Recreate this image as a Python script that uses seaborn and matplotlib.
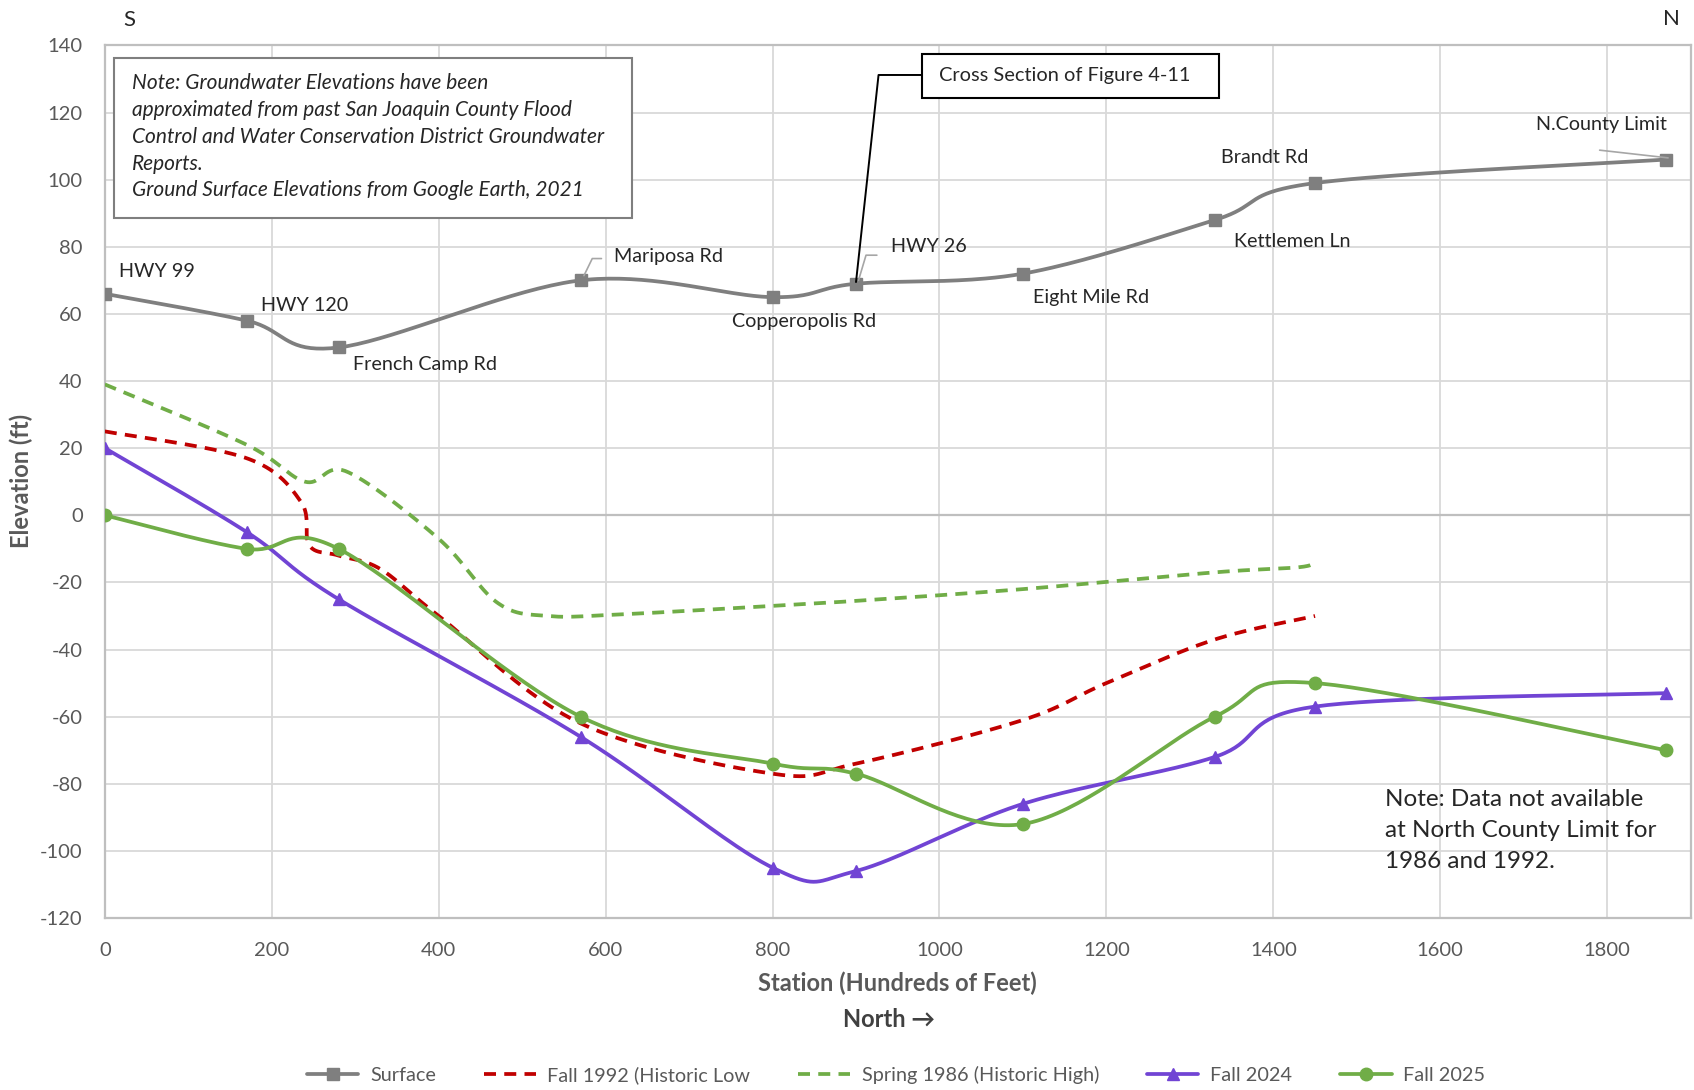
import numpy as np
import pandas as pd
import matplotlib
matplotlib.use("Agg")
import matplotlib.pyplot as plt
from matplotlib.patches import Rectangle
from matplotlib.lines import Line2D
import seaborn as sns

# --- data ---
station = [0, 170, 280, 570, 800, 900, 1100, 1330, 1450, 1870]
surface = [66, 58, 50, 70, 65, 69, 72, 88, 99, 106]
fall_2024 = [20, -5, -25, -66, -105, -106, -86, -72, -57, -53]
fall_2025 = [0, -10, -10, -60, -74, -77, -92, -60, -50, -70]

# historic lines have hidden points (no markers)
x_1992 = [0, 170, 235, 245, 280, 330, 400, 570, 800, 900, 1100, 1200, 1330, 1450]
fall_1992 = [25, 17, 4, -9, -12, -16, -30, -62, -77, -74, -61, -50, -37, -30]
x_1986 = [0, 170, 240, 290, 400, 470, 530, 620, 800, 900, 1100, 1330, 1430, 1450]
spring_1986 = [39, 21, 10, 13, -7, -26, -30, -29.5, -27, -25.5, -22, -17, -15.5, -14]

labels = ["HWY 99", "HWY 120", "French Camp Rd", "Mariposa Rd", "Copperopolis Rd",
          "HWY 26", "Eight Mile Rd", "Kettlemen Ln", "Brandt Rd", "N.County Limit"]
label_pos = [(17, 72.7), (187, 62.4), (297, 44.9), (610, 77.2), (751, 57.8),
             (942, 80.1), (1112, 64.9), (1353, 81.7), (1337, 106.5), (1715, 116.5)]

GREY = "#7f7f7f"
RED = "#c00000"
GREEN = "#70ad47"
PURPLE = "#7144d4"
TXT = "#595959"

# px per data unit, so the smoothing happens in screen-like space (like Excel)
SX, SY = 0.833, 3.35


def smooth(xs, ys, n=40):
    P = np.column_stack([np.array(xs, float) * SX, np.array(ys, float) * SY])
    out = [P[0]]
    t = np.linspace(0, 1, n)[1:, None]
    for i in range(len(P) - 1):
        p0 = P[i - 1] if i > 0 else P[i]
        p3 = P[i + 2] if i + 2 < len(P) else P[i + 1]
        c1 = P[i] + (P[i + 1] - p0) / 6
        c2 = P[i + 1] - (p3 - P[i]) / 6
        seg = ((1 - t) ** 3 * P[i] + 3 * (1 - t) ** 2 * t * c1
               + 3 * (1 - t) * t ** 2 * c2 + t ** 3 * P[i + 1])
        out.extend(seg)
    out = np.array(out)
    return pd.DataFrame({"x": out[:, 0] / SX, "y": out[:, 1] / SY})


sns.set_theme(style="white")
plt.rcParams["font.family"] = ["Lato", "DejaVu Sans"]
plt.rcParams["axes.unicode_minus"] = False

fig = plt.figure(figsize=(16.94, 10.9), dpi=100)
ax = fig.add_axes([0.0619, 0.1578, 0.9361, 0.8005])

ax.set_xlim(0, 1900)
ax.set_ylim(-120, 140)
ax.set_xticks(range(0, 1801, 200))
ax.set_yticks(range(-120, 141, 20))
ax.grid(True, color="#d9d9d9", lw=1.3)
ax.axhline(0, color="#bfbfbf", lw=1.6, zorder=1)
for s in ax.spines.values():
    s.set_color("#bfbfbf")
    s.set_linewidth(1.6)
ax.tick_params(axis="both", labelsize=14.5, colors=TXT, length=0)
ax.tick_params(axis="y", pad=16)
ax.tick_params(axis="x", pad=17)
ax.set_axisbelow(True)

series = [
    (station, surface, GREY, "-", "s", 9),
    (x_1992, fall_1992, RED, (0, (3.2, 2.2)), None, 0),
    (x_1986, spring_1986, GREEN, (0, (3.2, 2.2)), None, 0),
    (station, fall_2024, PURPLE, "-", "^", 9),
    (station, fall_2025, GREEN, "-", "o", 9),
]
for xs, ys, col, ls, mk, ms in series:
    sm = smooth(xs, ys)
    sns.lineplot(data=sm, x="x", y="y", sort=False, estimator=None, ax=ax,
                 color=col, lw=2.7, linestyle=ls, zorder=3)
    if mk:
        ax.plot(xs, ys, linestyle="none", marker=mk, ms=ms, color=col, zorder=4)
ax.set_xlabel("")
ax.set_ylabel("")

# point labels
for lab, (lx, ly) in zip(labels, label_pos):
    ax.text(lx, ly, lab, fontsize=14.2, color="#262626", va="center", ha="left", zorder=5)

# small leader lines
ax.plot([574, 584, 595], [71.4, 76.5, 76.5], color="#a6a6a6", lw=1.2, zorder=4)
ax.plot([903, 912, 925], [70, 77.5, 77.5], color="#a6a6a6", lw=1.2, zorder=4)
ax.plot([1791, 1873], [108.8, 106.5], color="#a6a6a6", lw=1.2, zorder=4)

# cross section callout
ax.plot([900, 927, 979], [69.5, 131.2, 131.2], color="black", lw=1.4, zorder=5)
ax.add_patch(Rectangle((979, 124.4), 356, 13.1, fill=True, facecolor="white",
                       edgecolor="black", lw=1.5, zorder=5))
ax.text(1000, 130.9, "Cross Section of Figure 4-11", fontsize=14.4, color="#262626",
        va="center", ha="left", zorder=6)

# note box
ax.add_patch(Rectangle((11, 88.5), 621, 47.8, facecolor="white", edgecolor="#7f7f7f",
                       lw=1.5, zorder=5))
ax.text(33, 131.8, "Note: Groundwater Elevations have been\n"
        "approximated from past San Joaquin County Flood\n"
        "Control and Water Conservation District Groundwater\n"
        "Reports.\n"
        "Ground Surface Elevations from Google Earth, 2021",
        fontsize=15, style="italic", color="#262626", va="top", ha="left",
        linespacing=1.43, zorder=6)

ax.text(1534, -81.5, "Note: Data not available\nat North County Limit for\n1986 and 1992.",
        fontsize=17.5, color="#262626", va="top", ha="left", linespacing=1.6, zorder=6)

# axis titles and compass marks
fig.text(0.530, 0.098, "Station (Hundreds of Feet)", fontsize=17, fontweight="bold",
         color=TXT, ha="center", va="center")
fig.text(0.525, 0.065, "North \u2192", fontsize=17, fontweight="bold",
         color="#404040", ha="center", va="center")
fig.text(0.0128, 0.559, "Elevation (ft)", fontsize=17, fontweight="bold",
         color=TXT, ha="center", va="center", rotation=90)
fig.text(0.0765, 0.982, "S", fontsize=16, color="#262626", ha="center", va="center")
fig.text(0.9865, 0.983, "N", fontsize=16, color="#262626", ha="center", va="center")

# legend
handles = [
    Line2D([], [], color=GREY, lw=2.7, marker="s", ms=9),
    Line2D([], [], color=RED, lw=2.7, linestyle=(0, (3.2, 2.2))),
    Line2D([], [], color=GREEN, lw=2.7, linestyle=(0, (3.2, 2.2))),
    Line2D([], [], color=PURPLE, lw=2.7, marker="^", ms=9),
    Line2D([], [], color=GREEN, lw=2.7, marker="o", ms=9),
]
names = ["Surface", "Fall 1992 (Historic Low", "Spring 1986 (Historic High)",
         "Fall 2024", "Fall 2025"]
leg = fig.legend(handles, names, loc="center", bbox_to_anchor=(0.529, 0.0135), ncol=5,
                 frameon=False, fontsize=14.3, handlelength=2.6, columnspacing=2.4,
                 handletextpad=0.6)
for t in leg.get_texts():
    t.set_color(TXT)

fig.savefig("out.png", dpi=100)
